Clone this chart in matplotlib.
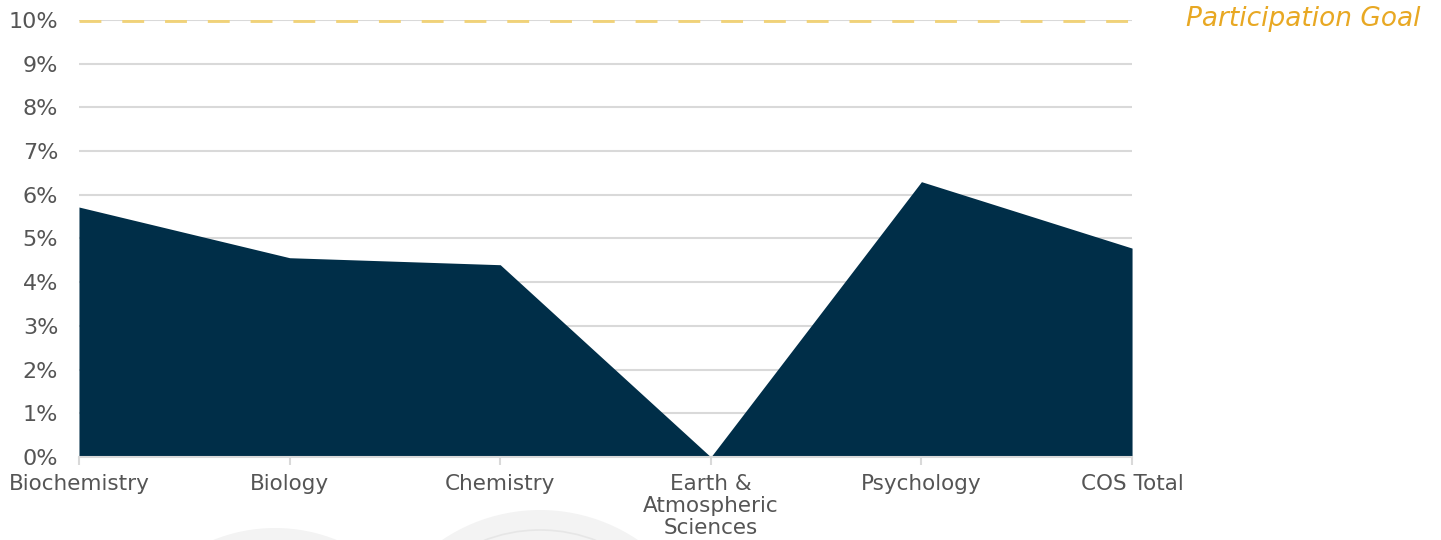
import matplotlib.pyplot as plt
from matplotlib.patches import Circle

departments = ["Biochemistry", "Biology", "Chemistry",
               "Earth &\nAtmospheric\nSciences", "Psychology", "COS Total"]
participation = [5.72, 4.56, 4.40, 0.0, 6.30, 4.78]
goal = 10
yticks = list(range(0, 11))

plt.rcParams['font.family'] = ['DejaVu Sans']

fig = plt.figure(figsize=(14.41, 5.40), dpi=100)

# faint background decoration at the bottom edge (pixel coords)
for cx, cy, r in [(275, -153, 165), (540, -145, 175)]:
    fig.patches.append(Circle((cx / 100, cy / 100), r / 100,
                              transform=fig.dpi_scale_trans,
                              facecolor='#f3f3f3', edgecolor='none', zorder=-1))
fig.patches.append(Circle((540 / 100, -145 / 100), 155 / 100,
                          transform=fig.dpi_scale_trans, facecolor='none',
                          edgecolor='#e6e6e6', linewidth=1.2, zorder=-1))

ax = fig.add_axes([0.0548, 0.1537, 0.7308, 0.8093])
ax.set_facecolor('none')
x = list(range(len(departments)))

ax.fill_between(x, participation, 0, color='#002e48', linewidth=0, zorder=2)
ax.axhline(goal, color='#f0d27a', linewidth=3.5, dashes=(4.5, 4.3), zorder=3)

ax.set_xlim(0, len(departments) - 1)
ax.set_ylim(0, 10)
ax.set_yticks(yticks)
ax.set_yticklabels([f"{v}%" for v in yticks])
ax.set_xticks(x)
ax.set_xticklabels(departments, linespacing=1.15)

ax.grid(axis='y', color='#d9d9d9', linewidth=1.5, zorder=1)
ax.set_axisbelow(True)
for side in ['top', 'right', 'left']:
    ax.spines[side].set_visible(False)
ax.spines['bottom'].set_color('#d9d9d9')
ax.spines['bottom'].set_linewidth(1.5)

ax.tick_params(axis='y', length=0, labelsize=16, labelcolor='#555555', pad=15)
ax.tick_params(axis='x', length=6, width=1.5, color='#d9d9d9',
               labelsize=15.5, labelcolor='#555555', pad=6)

fig.text(0.986, 0.965, "Participation Goal", ha='right', va='center',
         fontsize=19, style='italic', color='#e8a823')

fig.savefig('out.png', dpi=100)
